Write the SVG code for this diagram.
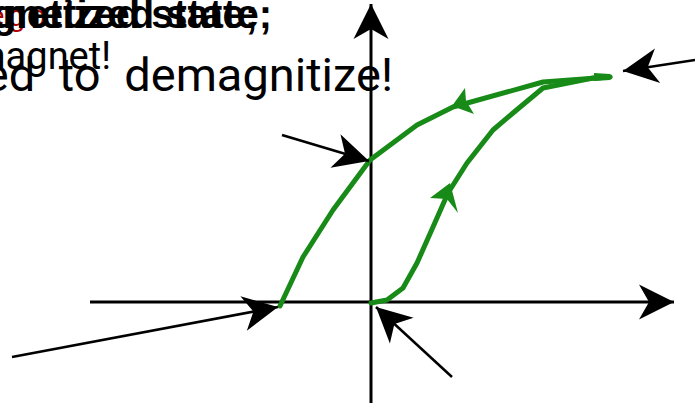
<svg xmlns="http://www.w3.org/2000/svg" width="695" height="405" viewBox="0 0 695 405">
<style>
.t{font-family:"Liberation Sans",Arial,sans-serif;fill:#000}
.r{font-family:Roboto,"Liberation Sans",sans-serif;fill:#000}
.ax{stroke:#000;stroke-width:3;fill:none}
.ptr{stroke:#000;stroke-width:2.5;fill:none}
.curve{stroke:#178a17;stroke-width:5;fill:none;stroke-linejoin:round;stroke-linecap:round}
.gh{fill:#178a17}
</style>
<defs>
<marker id="ah" markerUnits="userSpaceOnUse" markerWidth="40" markerHeight="40" viewBox="-30 -16 32 32" refX="0" refY="0" orient="auto">
<path d="M0,0 L-28,-14 L-20,0 L-28,14 Z" fill="#000"/>
</marker>
</defs>
<g id="texts">
<text class="t" x="-12" y="26" font-size="30" style="fill:#b00000" letter-spacing="4">ego</text>
<text class="t" x="258" y="28" font-size="40" font-weight="bold" text-anchor="end">Magnetized state;</text>
<text class="t" x="272" y="28" font-size="40" font-weight="bold" text-anchor="end">Magnetized state;</text>
<text class="r" x="111" y="69" font-size="38" text-anchor="end">Permanent magnet!</text>
<text class="r" x="393" y="91" font-size="47" text-anchor="end" word-spacing="12">Need to demagnitize!</text>
</g>
<g id="axes">
<line class="ax" x1="90" y1="302" x2="674" y2="302" marker-end="url(#ah)"/>
<line class="ax" x1="371" y1="403" x2="371" y2="4" marker-end="url(#ah)"/>
</g>
<g id="hysteresis">
<path class="curve" d="M280,306 L303,257 L333,210 L370,160 L417,125 L453,107 L543,82 L610,77"/>
<path class="curve" d="M371,303 L387,300 L403,288 L417,263 L433,227 L448,193 L467,163 L493,130 L513,113 L543,88 L593,78 L610,77"/>
<path d="M594,73 L610,74 L610,80 L594,81 Z" class="gh"/>
<polygon class="gh" points="452,106 465,88 466,101 474,114"/>
<polygon class="gh" points="450,183 430,198 447,199 458,213"/>
</g>
<g id="connectors">
<line class="ptr" x1="695" y1="60" x2="623" y2="71" marker-end="url(#ah)"/>
<line class="ptr" x1="282" y1="135" x2="369" y2="161" marker-end="url(#ah)"/>
<line class="ptr" x1="12" y1="357" x2="278" y2="307" marker-end="url(#ah)"/>
<line class="ptr" x1="452" y1="377" x2="376" y2="307" marker-end="url(#ah)"/>
</g>
</svg>
